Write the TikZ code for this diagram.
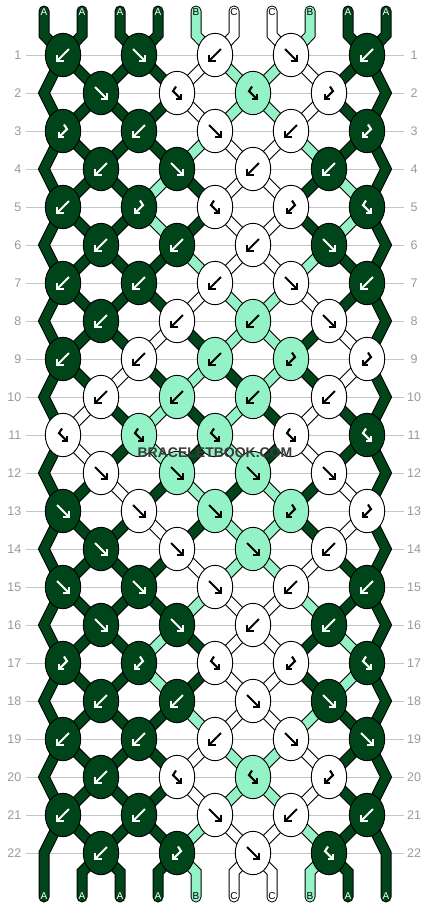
\documentclass[tikz,border=0pt]{standalone}
\usepackage{fontspec}
\setmainfont{Liberation Sans}
\usetikzlibrary{shapes.geometric}
\definecolor{A}{HTML}{00441A}
\definecolor{B}{HTML}{94F3C6}
\definecolor{C}{HTML}{FFFFFF}
\definecolor{rowgray}{HTML}{C4C4C4}
\definecolor{numgray}{HTML}{9A9A9A}
\definecolor{wmgray}{HTML}{3A3A3A}
\newcommand\glyphF{\draw[arr,draw=\gc] (-6,-6) -- (6,6); \draw[arr,draw=\gc] (-0.5,6) -- (6,6) -- (6,-0.5);}
\newcommand\glyphB{\draw[arr,draw=\gc] (6,-6) -- (-6,6); \draw[arr,draw=\gc] (-6,-0.5) -- (-6,6) -- (0.5,6);}
\newcommand\glyphS{\draw[arr,draw=\gc] (-1,-6.5) -- (-4,-1.8) -- (3.8,6); \draw[arr,draw=\gc] (3.8,0.8) -- (3.8,6) -- (-1.4,6);}
\newcommand\glyphZ{\draw[arr,draw=\gc] (1,-6.5) -- (4,-1.8) -- (-3.8,6); \draw[arr,draw=\gc] (-3.8,0.8) -- (-3.8,6) -- (1.4,6);}
\begin{document}
\begin{tikzpicture}[x=1pt,y=-1pt,
  band/.code={\ifnum\pass=1 \pgfkeysalso{draw=black,line width=11pt,line cap=round}\else\pgfkeysalso{draw=#1,line width=9pt,line cap=round}\fi},
  knot/.style={draw=black,line width=0.9pt,fill=#1,ellipse,minimum width=35.4pt,minimum height=43.4pt,inner sep=0pt},
  arr/.style={line width=2.1pt,line cap=butt,line join=miter},
  rowline/.style={draw=rowgray,line width=1pt},
  rownum/.style={text=numgray,font=\fontsize{12.5}{12.5}\selectfont,inner sep=0pt},
  endlab/.style={font=\fontsize{10}{10}\selectfont,inner sep=0pt},
  wm/.style={font=\fontsize{14}{14}\selectfont\bfseries,text=wmgray,inner sep=0pt}]
\fill[white] (0,0) rectangle (430,908);
\useasboundingbox (0,0) rectangle (430,908);
% row guide lines and numbers
\foreach \r in {1,...,22}{
  \pgfmathsetmacro\yy{55+38*(\r-1)}
  \draw[rowline] (26,\yy) -- (404,\yy);
  \node[rownum,anchor=east] (nl\r) at (21.5,\yy) {\r};
  \node[rownum] (nr\r) at (414,\yy) {\r};
}
% strings: pass 1 outlines, pass 2 fills
\foreach \pass in {1,2}{
  % edge strings
  \draw[band=A] (44,11) -- (44,35) \foreach \r in {1,3,...,21}{ -- (63,{55+38*(\r-1)}) -- (44,{55+38*\r}) } -- (44,897);
  \draw[band=A] (386,11) -- (386,35) \foreach \r in {1,3,...,21}{ -- (367,{55+38*(\r-1)}) -- (386,{55+38*\r}) } -- (386,897);
  % top ends
  \foreach \kc [count=\j] in {A,A,A,B,C,C,B,A}{
    \pgfmathtruncatemacro\ii{\j+1}
    \pgfmathsetmacro\xs{44+38*(\ii-1)}
    \pgfmathtruncatemacro\ko{(\ii+1)/2}
    \pgfmathsetmacro\xk{63+76*(\ko-1)}
    \draw[band=\kc] (\xs,11) -- (\xs,35) -- (\xk,55);
  }
  % bottom ends
  \foreach \kc [count=\j] in {A,A,A,B,C,C,B,A}{
    \pgfmathtruncatemacro\ii{\j+1}
    \pgfmathsetmacro\xs{44+38*(\ii-1)}
    \pgfmathtruncatemacro\ke{\ii/2}
    \pgfmathsetmacro\xk{101+76*(\ke-1)}
    \draw[band=\kc] (\xk,853) -- (\xs,872) -- (\xs,897);
  }
  % segments between rows
  \foreach \r/\s in {
    1/{A,A,A,A,C,B,B,C,A,A},
    2/{A,A,A,A,C,B,B,C,A,A},
    3/{A,A,A,A,B,C,C,B,A,A},
    4/{A,A,A,B,A,C,C,A,B,A},
    5/{A,A,A,B,A,C,C,A,B,A},
    6/{A,A,A,A,B,C,C,B,A,A},
    7/{A,A,A,A,C,B,B,C,A,A},
    8/{A,A,A,C,A,B,B,A,C,A},
    9/{A,A,C,A,B,A,B,A,C,A},
    10/{A,C,A,B,A,B,A,C,A,A},
    11/{A,C,A,B,A,B,A,C,A,A},
    12/{A,A,C,A,B,A,B,A,C,A},
    13/{A,A,A,C,A,B,B,A,C,A},
    14/{A,A,A,A,C,B,B,C,A,A},
    15/{A,A,A,A,B,C,C,B,A,A},
    16/{A,A,A,B,A,C,C,A,B,A},
    17/{A,A,A,B,A,C,C,A,B,A},
    18/{A,A,A,A,B,C,C,B,A,A},
    19/{A,A,A,A,C,B,B,C,A,A},
    20/{A,A,A,A,C,B,B,C,A,A},
    21/{A,A,A,A,B,C,C,B,A,A}}{
    \pgfmathsetmacro\ya{55+38*(\r-1)}
    \pgfmathsetmacro\yb{\ya+38}
    \foreach \kc [count=\ii] in \s {
      \ifnum\ii>1\relax\ifnum\ii<10\relax
        \pgfmathtruncatemacro\ko{(\ii+1)/2}
        \pgfmathtruncatemacro\ke{\ii/2}
        \pgfmathsetmacro\xo{63+76*(\ko-1)}
        \pgfmathsetmacro\xe{101+76*(\ke-1)}
        \ifodd\r\relax
          \draw[band=\kc] (\xo,\ya) -- (\xe,\yb);
        \else
          \draw[band=\kc] (\xe,\ya) -- (\xo,\yb);
        \fi
      \fi\fi
    }
  }
}
% knots
\foreach \r/\ks in {
  1/{B/A,F/A,B/C,F/C,B/A},
  2/{F/A,S/C,S/B,Z/C},
  3/{Z/A,B/A,F/C,B/C,Z/A},
  4/{B/A,F/A,B/C,B/A},
  5/{B/A,Z/A,S/C,Z/C,S/A},
  6/{B/A,B/A,B/C,F/A},
  7/{B/A,B/A,B/C,F/C,B/A},
  8/{B/A,B/C,B/B,F/C},
  9/{B/A,B/C,B/B,Z/B,Z/C},
  10/{B/C,B/B,B/B,B/C},
  11/{S/C,S/B,S/B,S/C,S/A},
  12/{F/C,F/B,F/B,F/C},
  13/{F/A,F/C,F/B,Z/B,Z/C},
  14/{F/A,F/C,F/B,B/C},
  15/{F/A,F/A,F/C,B/C,B/A},
  16/{F/A,F/A,B/C,B/A},
  17/{Z/A,Z/A,S/C,Z/C,S/A},
  18/{B/A,B/A,F/C,F/A},
  19/{B/A,B/A,B/C,F/C,F/A},
  20/{B/A,S/C,S/B,Z/C},
  21/{B/A,B/A,F/C,B/C,B/A},
  22/{B/A,Z/A,F/C,S/A}}{
  \pgfmathsetmacro\yy{55+38*(\r-1)}
  \foreach \kt/\kc [count=\k] in \ks {
    \ifodd\r\relax
      \pgfmathsetmacro\xx{63+76*(\k-1)}
    \else
      \pgfmathsetmacro\xx{101+76*(\k-1)}
    \fi
    \node[knot=\kc] (k\r-\k) at (\xx,\yy) {};
    \if\kc A\def\gc{white}\else\def\gc{black}\fi
    \begin{scope}[shift={(\xx,\yy)}]
      \csname glyph\kt\endcsname
    \end{scope}
  }
}
% string end labels
\foreach \kc [count=\ii] in {A,A,A,A,B,C,C,B,A,A}{
  \pgfmathsetmacro\xs{44+38*(\ii-1)}
  \if\kc A\def\gc{white}\else\def\gc{black}\fi
  \node[endlab,text=\gc] (t\ii) at (\xs,12.5) {\kc};
  \node[endlab,text=\gc] (b\ii) at (\xs,896) {\kc};
}
\node[wm] (wmark) at (215,453) {BRACELETBOOK.COM};
\end{tikzpicture}
\end{document}
